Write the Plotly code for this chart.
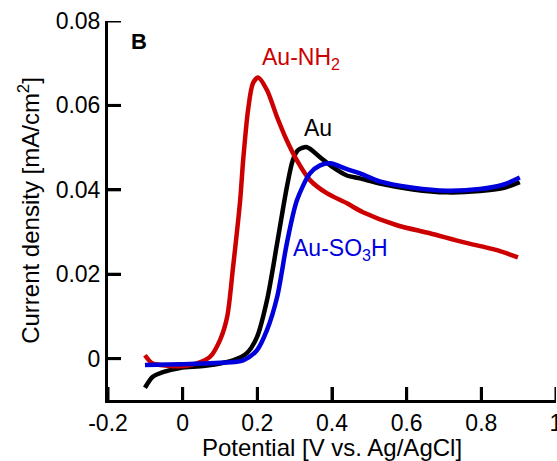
import plotly.graph_objects as go

# Au-NH2 (red)
nh2_x = [-0.101, -0.082, -0.060, -0.007, 0.038, 0.073, 0.100, 0.119, 0.135, 0.154, 0.162, 0.175,
         0.188, 0.202, 0.226, 0.253, 0.279, 0.306, 0.341, 0.386, 0.440, 0.483, 0.574, 0.662,
         0.751, 0.842, 0.898]
nh2_y = [0.0008, -0.0011, -0.0015, -0.0018, -0.0011, 0.0004, 0.0044, 0.0098, 0.0217, 0.0375,
         0.0470, 0.0588, 0.0652, 0.0666, 0.0636, 0.0572, 0.0517, 0.0470, 0.0423, 0.0392, 0.0368,
         0.0347, 0.0316, 0.0297, 0.0276, 0.0257, 0.0240]

# Au (black)
au_x = [-0.101, -0.080, -0.053, -0.007, 0.060, 0.135, 0.172, 0.199, 0.226, 0.253,
        0.279, 0.295, 0.309, 0.333, 0.368, 0.403, 0.440, 0.475, 0.528, 0.617, 0.708, 0.796,
        0.858, 0.903]
au_y = [-0.0069, -0.0043, -0.0032, -0.0022, -0.0017, -0.0004, 0.0013, 0.0051, 0.0139, 0.0273,
        0.0406, 0.0470, 0.0494, 0.0501, 0.0477, 0.0453, 0.0434, 0.0427, 0.0415,
        0.0401, 0.0394, 0.0397, 0.0404, 0.0418]

# Au-SO3H (blue)
so3h_x = [-0.101, -0.007, 0.100, 0.162, 0.199, 0.226, 0.253, 0.279, 0.306, 0.341,
          0.368, 0.395, 0.440, 0.475, 0.528, 0.617, 0.708, 0.796, 0.858, 0.903]
so3h_y = [-0.0015, -0.0013, -0.0010, -0.0004, 0.0020, 0.0068, 0.0146, 0.0273, 0.0375,
          0.0439, 0.0458, 0.0463, 0.0449, 0.0439, 0.0420, 0.0405, 0.0398, 0.0402,
          0.0412, 0.0429]

x_ticks = [-0.2, 0, 0.2, 0.4, 0.6, 0.8, 1.0]
x_labels = ["-0.2", "0", "0.2", "0.4", "0.6", "0.8", "1"]
y_ticks = [0, 0.02, 0.04, 0.06, 0.08]
y_labels = ["0", "0.02", "0.04", "0.06", "0.08"]

X_RANGE = [-0.2, 1.0]
Y_RANGE = [-0.0098, 0.08]

RED = "#cc0000"
BLUE = "#0000dd"
BLACK = "#000000"
FONT = "Liberation Sans, Arial, sans-serif"

W, H = 557, 461
M = dict(l=108, r=1, t=21, b=61)
TICK_LEN = 13
plot_w = W - M["l"] - M["r"]
plot_h = H - M["t"] - M["b"]

fig = go.Figure()
fig.add_trace(go.Scatter(x=au_x, y=au_y, mode="lines", line=dict(color=BLACK, width=4.5, shape="spline", smoothing=0.8)))
fig.add_trace(go.Scatter(x=nh2_x, y=nh2_y, mode="lines", line=dict(color=RED, width=4.5, shape="spline", smoothing=0.8)))
fig.add_trace(go.Scatter(x=so3h_x, y=so3h_y, mode="lines", line=dict(color=BLUE, width=4.5, shape="spline", smoothing=0.8)))

# inward tick marks (also at the axis ends) built from the tick arrays
x_tick_top = Y_RANGE[0] + TICK_LEN / plot_h * (Y_RANGE[1] - Y_RANGE[0])
y_tick_right = X_RANGE[0] + TICK_LEN / plot_w * (X_RANGE[1] - X_RANGE[0])
tx, ty = [], []
for v in x_ticks:
    tx += [v, v, None]
    ty += [Y_RANGE[0], x_tick_top, None]
for v in y_ticks:
    tx += [X_RANGE[0], y_tick_right, None]
    ty += [v, v, None]
fig.add_trace(go.Scatter(x=tx, y=ty, mode="lines", hoverinfo="skip", connectgaps=False,
                         line=dict(color="black", width=3)))

fig.update_layout(
    width=W, height=H,
    margin=M,
    paper_bgcolor="white", plot_bgcolor="white",
    showlegend=False,
    font=dict(family=FONT, size=23, color="black"),
)
fig.update_xaxes(
    range=X_RANGE, tickmode="array", tickvals=x_ticks, ticktext=x_labels,
    showline=True, linewidth=3, linecolor="black", ticks="inside", ticklen=TICK_LEN, tickwidth=3,
    tickcolor="black", showgrid=False, zeroline=False, automargin=False,
    ticklabeloverflow="allow",
    tickfont=dict(size=23, color="black"),
    title=dict(text="Potential [V vs. Ag/AgCl]", font=dict(size=24), standoff=17),
)
fig.update_yaxes(
    range=Y_RANGE, tickmode="array", tickvals=y_ticks, ticktext=y_labels,
    showline=True, linewidth=3, linecolor="black", ticks="inside", ticklen=TICK_LEN, tickwidth=3,
    tickcolor="black", showgrid=False, zeroline=False, automargin=False,
    ticklabeloverflow="allow",
    tickfont=dict(size=23, color="black"),
    title=dict(text="Current density [mA/cm<sup>2</sup>]", font=dict(size=24), standoff=10),
)

fig.add_annotation(x=0.207, y=0.071, text="Au-NH<sub>2</sub>", showarrow=False, xanchor="left",
                   yanchor="middle", font=dict(color=RED, size=23))
fig.add_annotation(x=0.320, y=0.0546, text="Au", showarrow=False, xanchor="left",
                   yanchor="middle", font=dict(color=BLACK, size=23))
fig.add_annotation(x=0.290, y=0.0258, text="Au-SO<sub>3</sub>H", showarrow=False, xanchor="left",
                   yanchor="middle", font=dict(color=BLUE, size=23))
fig.add_annotation(x=-0.143, y=0.0752, text="<b>B</b>", showarrow=False, xanchor="left",
                   yanchor="middle", font=dict(color=BLACK, size=22))

fig.write_html("out.html")
